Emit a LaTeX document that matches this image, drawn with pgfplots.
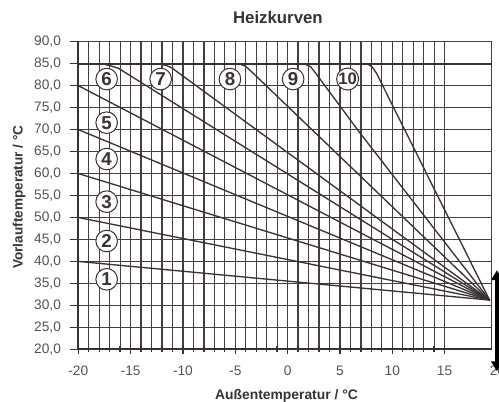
\documentclass[border=0pt]{standalone}
\usepackage{fontspec}
\setmainfont{Liberation Sans}
\usepackage{pgfplots}
\pgfplotsset{compat=1.18}
\usetikzlibrary{arrows.meta}
\definecolor{ink}{HTML}{3A3232}
\definecolor{gridc}{HTML}{463E3E}
\tikzset{num/.style={circle, draw=ink, line width=0.75pt, fill=white, inner sep=0pt, minimum size=16.2pt,
        font=\bfseries\fontsize{14}{14}\selectfont, text=ink}}
\begin{document}
\begin{tikzpicture}
\begin{axis}[
  scale only axis, width=310.05pt, height=230.7pt,
  at={(0,0)}, anchor=south west,
  xmin=-20, xmax=19.5, ymin=20, ymax=90,
  xtick={-20,-15,-10,-5,0,5,10,15},
  minor x tick num=4,
  ytick={20,25,...,90},
  tick pos=left,
  xtick align=center,
  ytick align=outside,
  major tick length=6.5pt, minor tick length=4.5pt,
  every tick/.style={ink, line width=1pt},
  minor tick style={ink, line width=1pt},
  xmajorgrids, xminorgrids, ymajorgrids,
  major grid style={gridc, line width=0.95pt},
  minor grid style={gridc, line width=0.95pt},
  axis line style={gridc, line width=0.95pt},
  tick label style={font=\fontsize{10.3}{12}\selectfont, text=ink!85},
  /pgf/number format/assume math mode=true,
  yticklabel={\pgfmathprintnumber[fixed, fixed zerofill, precision=1, use comma]{\tick}},
  xticklabel style={anchor=center, yshift=-13pt},
  yticklabel style={anchor=east, xshift=-3pt},
  title={Heizkurven},
  title style={at={(axis description cs:0.4828,1.034)}, anchor=base, font=\bfseries\fontsize{12.6}{14}\selectfont, text=ink},
  xlabel={Außentemperatur / °C},
  xlabel style={at={(axis description cs:0.5036,-0.163)}, anchor=base, font=\bfseries\fontsize{10.4}{12}\selectfont, text=ink},
  ylabel={Vorlauftemperatur / °C},
  ylabel style={at={(axis description cs:-0.1434,0.4951)}, anchor=center, font=\bfseries\fontsize{10.2}{12}\selectfont, text=ink},
  clip=false,
]
% 85 degree limit line
\addplot[ink, line width=1.7pt] coordinates {(-20,85) (19.5,85)};
% curves 1-5
\addplot[ink, line width=1pt] coordinates {(-20,40) (19.3,31.2)};
\addplot[ink, line width=1pt] coordinates {(-20,50) (19.3,31.2)};
\addplot[ink, line width=1pt] coordinates {(-20,60) (19.3,31.2)};
\addplot[ink, line width=1pt] coordinates {(-20,70) (19.3,31.2)};
\addplot[ink, line width=1pt] coordinates {(-20,80) (19.3,31.2)};
% curves 6-10
\addplot[ink, line width=1pt] coordinates {(-18.4,85) (-17.5,84.85) (-16.9,84.5) (-16.2,84.0) (19.3,31.2)};
\addplot[ink, line width=1pt] coordinates {(-12.8,85) (-12.1,84.85) (-11.6,84.6) (-11.1,84.1) (19.3,31.2)};
\addplot[ink, line width=1pt] coordinates {(-5.2,85) (-4.5,84.85) (-4.0,84.4) (-3.5,83.3) (19.3,31.2)};
\addplot[ink, line width=1pt] coordinates {(1.0,85) (1.7,84.85) (2.2,84.3) (2.6,83.1) (6.7,69.9) (19.3,31.2)};
\addplot[ink, line width=1pt] coordinates {(7.0,85) (7.7,84.85) (8.1,84.2) (8.5,82.8) (19.3,31.2)};
% thick left and bottom axis lines
\draw[ink, line width=1.7pt] (rel axis cs:0,1) -- (rel axis cs:0,0) -- (rel axis cs:1,0);
% curve numbers
\node[num] at (axis cs:-17.29,35.93) {1};
\node[num] at (axis cs:-17.29,44.65) {2};
\node[num] at (axis cs:-17.29,53.6) {3};
\node[num] at (axis cs:-17.29,63.3) {4};
\node[num] at (axis cs:-17.29,71.57) {5};
\node[num] at (axis cs:-17.29,81.5) {6};
\node[num] at (axis cs:-12.13,81.5) {7};
\node[num] at (axis cs:-5.51,81.5) {8};
\node[num] at (axis cs:0.53,81.5) {9};
\node[num, font=\bfseries\fontsize{12.5}{12.5}\selectfont] at (axis cs:5.73,81.5) {10};
% last tick label, cut by the edge as in the original
\node[font=\fontsize{10.3}{12}\selectfont, text=ink!85, anchor=center] at (axis cs:20.05,20) [yshift=-16pt] {20};
% shift arrow on the right
\draw[black, line width=2.4pt, {Triangle[width=8.5pt,length=7.5pt]}-{Triangle[width=8.5pt,length=7.5pt]}] (axis cs:20,38) -- (axis cs:20,15);
\end{axis}
\pgfresetboundingbox
\useasboundingbox (-58.725pt,-38.775pt) rectangle (315.525pt,261.975pt);
\end{tikzpicture}
\end{document}
